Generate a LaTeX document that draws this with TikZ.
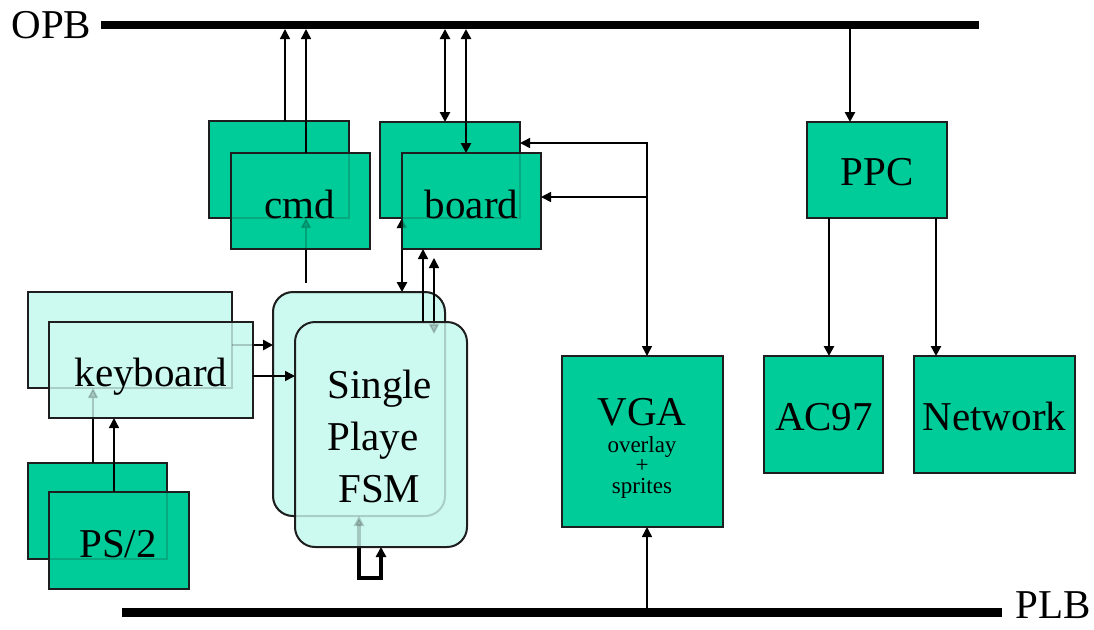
\documentclass[tikz,border=0pt]{standalone}
\usepackage{fontspec}
\setmainfont{Liberation Serif}
\usetikzlibrary{arrows.meta}
\pgfdeclarelayer{backcopy}
\pgfdeclarelayer{hidden}
\pgfdeclarelayer{ghost}
\pgfsetlayers{backcopy,hidden,main,ghost}
\definecolor{blockgreen}{RGB}{0,204,153}
\definecolor{blockaqua}{RGB}{204,250,240}
\definecolor{edge}{RGB}{30,30,30}
\tikzset{
  blk/.style={draw=edge, line width=1pt, inner sep=0pt, outer sep=0pt, fill=blockgreen},
  pale/.style={blk, fill=blockaqua},
  fsmshape/.style={pale, rounded corners=10pt},
  outline/.style={draw=edge, line width=1pt},
  busbar/.style={fill=black, inner sep=0pt, outer sep=0pt},
  big/.style={font=\fontsize{20.5}{24}\selectfont, inner sep=0pt},
  small/.style={font=\fontsize{11.5}{12}\selectfont, inner sep=0pt},
  wire/.style={line width=0.75pt},
  heavy/.style={line width=1.25pt},
  loopline/.style={line width=1.6pt},
  seethrough/.style={opacity=0.2}
}
\begin{document}
\begin{tikzpicture}[x=0.5pt,y=-0.5pt,>={Triangle[length=5pt,width=5pt]}]
\useasboundingbox (0,0) rectangle (1094,629);

% buses
\node[busbar, minimum width=439pt, minimum height=4pt] (opb) at (540,25) {};
\node[busbar, minimum width=440pt, minimum height=4.5pt] (plb) at (562,612.5) {};
\node[big, anchor=base west] (opbT) at (11,38) {OPB};
\node[big, anchor=base west] (plbT) at (1015,618) {PLB};

% second instance, drawn behind
\begin{pgfonlayer}{backcopy}
\node[blk, minimum width=70pt, minimum height=48.5pt] (cmdB) at (279,169.5) {};
\node[blk, minimum width=70pt, minimum height=48pt] (boardB) at (450,170) {};
\node[pale, minimum width=102pt, minimum height=48pt] (kbB) at (130,340) {};
\node[blk, minimum width=69.5pt, minimum height=48pt] (ps2B) at (97.5,511) {};
\node[fsmshape, minimum width=86pt, minimum height=112pt] (fsmB) at (359,404) {};
\end{pgfonlayer}

% first instance
\node[blk, minimum width=69.5pt, minimum height=48pt] (cmdF) at (300.5,201) {};
\node[blk, minimum width=69.5pt, minimum height=48pt] (boardF) at (471.5,201) {};
\node[pale, minimum width=102pt, minimum height=48pt] (kbF) at (151,370) {};
\node[blk, minimum width=70pt, minimum height=48.5pt] (ps2F) at (119,540.5) {};
\node[fsmshape, minimum width=86pt, minimum height=112.5pt] (fsmF) at (381,434.5) {};

% single blocks
\node[blk, minimum width=70pt, minimum height=48pt] (ppc) at (877,170) {};
\node[blk, minimum width=80.5pt, minimum height=85.5pt] (vga) at (642.5,441.5) {};
\node[blk, minimum width=59.5pt, minimum height=58.5pt] (ac97) at (823.5,414.5) {};
\node[blk, minimum width=80.5pt, minimum height=58.5pt] (net) at (994.5,414.5) {};

% labels
\node[big, anchor=base] (cmdT) at (300,218) {cmd};
\node[big, anchor=base] (boardT) at (471.5,218) {board};
\node[big, anchor=base] (kbT) at (151,386) {keyboard};
\node[big, anchor=base] (ps2T) at (118,557) {PS/2};
\node[big, font=\fontsize{20.5}{26}\selectfont, align=left, anchor=north west] (fsmT) at (327,370)
  {Single\\Playe\\\hspace*{5.5pt}FSM};
\node[big, anchor=base] (vgaT) at (642,425) {VGA};
\node[small, anchor=base] (vgaSub1) at (642,452) {overlay};
\node[small] (vgaSub2) at (642,466) {+};
\node[small, anchor=base] (vgaSub3) at (642,493) {sprites};
\node[big, anchor=base] (ppcT) at (877,185) {PPC};
\node[big, anchor=base] (ac97T) at (824,430) {AC97};
\node[big, anchor=base] (netT) at (994.5,430) {Network};

% links of the rear instance
\coordinate (cmdTap) at (306,283);
\coordinate (fsmTapTop) at (434,258);
\coordinate (fsmTapBot) at (434,334);
\coordinate (loopL) at (359,578);
\coordinate (loopR) at (381,578);
\newcommand\rearlinks{%
  \draw[wire,->] (cmdTap) -- (306,0 |- cmdB.south);
  \draw[heavy,->] (kbB.east |- 0,345) -- (fsmB.west |- 0,345);
  \draw[wire,->] (93,0 |- ps2B.north) -- (93,0 |- kbB.south);
  \draw[heavy,<->] (402,0 |- boardB.south) -- (402,0 |- fsmB.north);
  \draw[wire,<->] (fsmTapTop) -- (fsmTapBot);
  \draw[loopline,<->] (359,0 |- fsmB.south) -- (loopL) -- (loopR) -- (381,0 |- fsmF.south);
}
\newcommand\rearoutlines{%
  \draw[outline] (cmdB.north west) rectangle (cmdB.south east);
  \draw[outline] (boardB.north west) rectangle (boardB.south east);
  \draw[outline] (kbB.north west) rectangle (kbB.south east);
  \draw[outline] (ps2B.north west) rectangle (ps2B.south east);
  \draw[outline, rounded corners=10pt] (fsmB.north west) rectangle (fsmB.south east);
}
\begin{pgfonlayer}{hidden}
\rearlinks
\end{pgfonlayer}
% the rear instance shows faintly through the front blocks
\begin{pgfonlayer}{ghost}
\begin{scope}[seethrough]
\rearlinks
\rearoutlines
\end{scope}
\end{pgfonlayer}

% links on top
\draw[wire,->] (285,0 |- cmdB.north) -- (285,0 |- opb.south);
\draw[wire,->] (306,0 |- cmdF.north) -- (306,0 |- opb.south);
\draw[heavy,<->] (445,0 |- opb.south) -- (445,0 |- boardB.north);
\draw[heavy,<->] (466,0 |- opb.south) -- (466,0 |- boardF.north);
\draw[wire,<->] (boardB.east |- 0,143) -- (647,143) -- (647,0 |- vga.north);
\draw[wire,->] (647,197) -- (boardF.east |- 0,197);
\draw[wire,->] (423,0 |- fsmF.north) -- (423,0 |- boardF.south);
\draw[wire,->] (kbF.east |- 0,376) -- (fsmF.west |- 0,376);
\draw[wire,->] (114,0 |- ps2F.north) -- (114,0 |- kbF.south);
\draw[wire,->] (647,0 |- plb.north) -- (647,0 |- vga.south);
\draw[heavy,->] (850,0 |- opb.south) -- (850,0 |- ppc.north);
\draw[heavy,->] (829,0 |- ppc.south) -- (829,0 |- ac97.north);
\draw[heavy,->] (936,0 |- ppc.south) -- (936,0 |- net.north);
\end{tikzpicture}
\end{document}
